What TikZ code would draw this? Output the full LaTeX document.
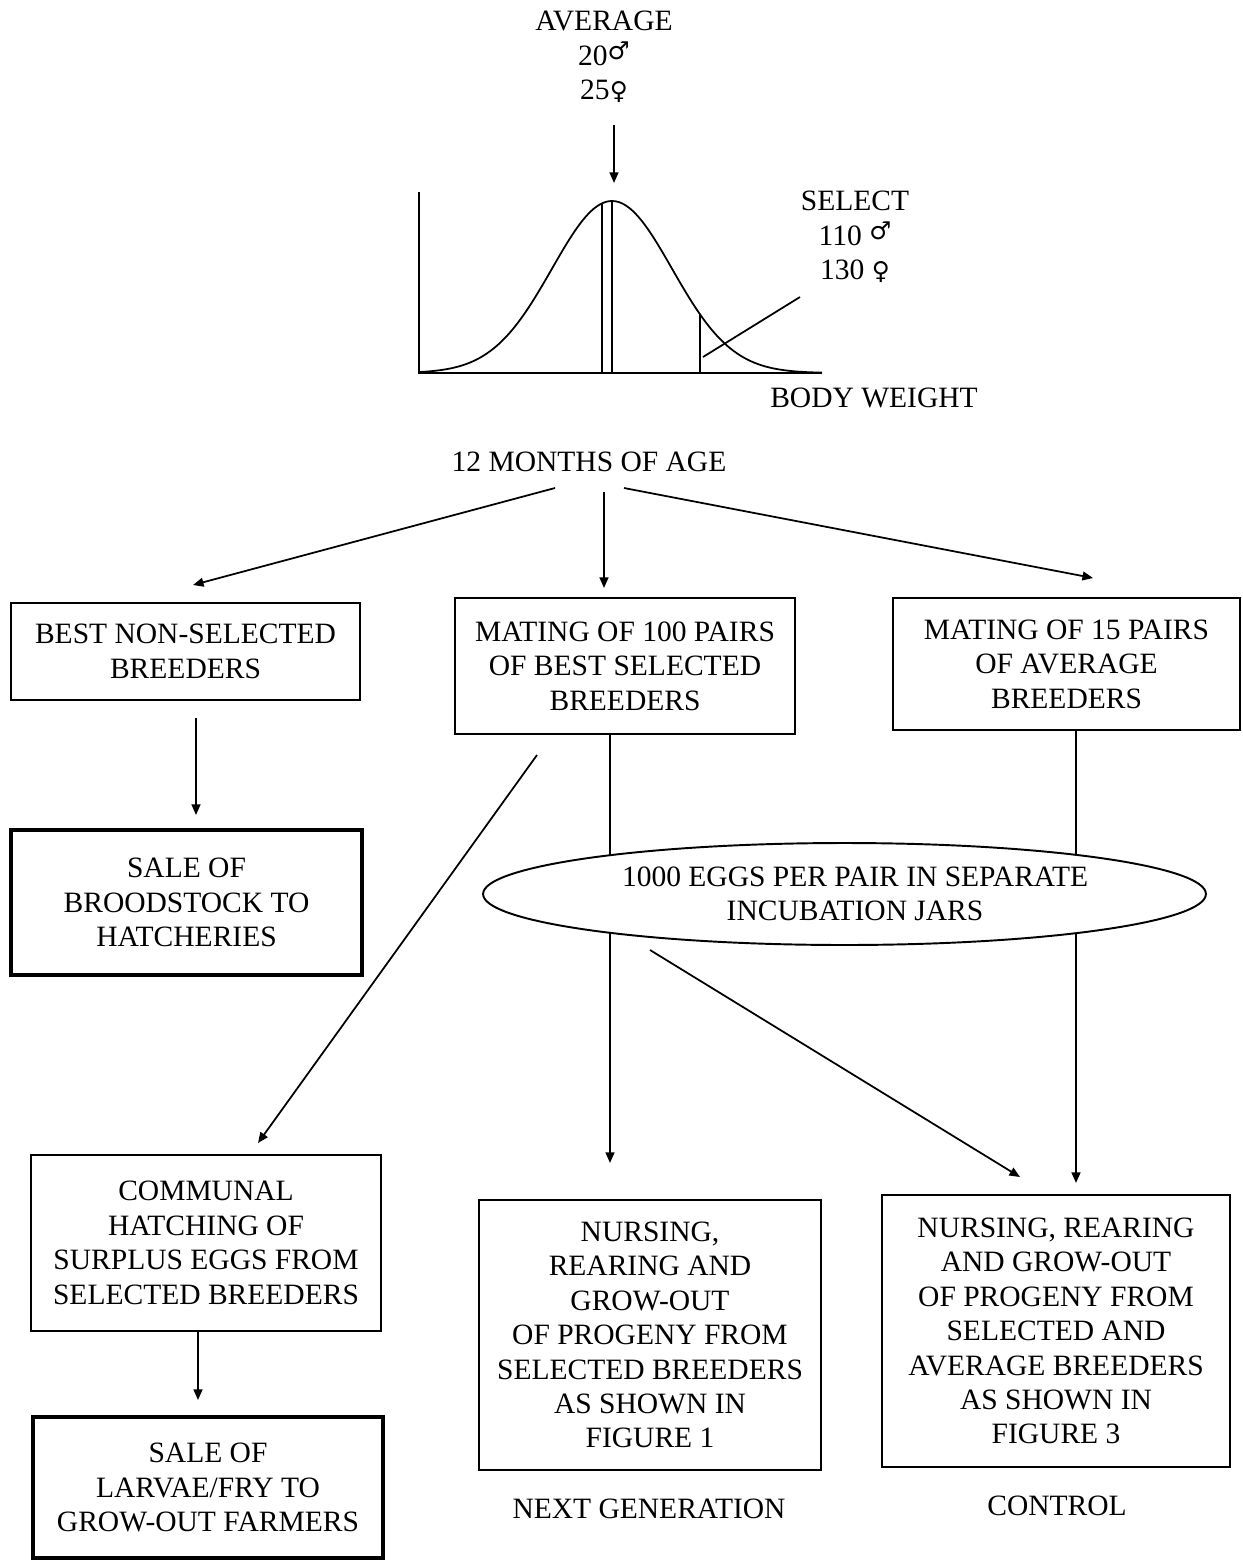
\documentclass[tikz,border=0pt]{standalone}
\usepackage{fontspec}
\setmainfont{Liberation Serif}
\newfontfamily\symf{DejaVu Sans}
\usetikzlibrary{shapes.geometric,arrows.meta}
\begin{document}
\begin{tikzpicture}[x=0.02cm,y=-0.02cm,
  every node/.style={font=\fontsize{16.8}{19.6}\selectfont, align=center, inner sep=0pt},
  box/.style={draw, line width=1.1pt, align=center},
  thickbox/.style={box, line width=1.9pt},
  conn/.style={line width=1pt},
  arr/.style={conn, -{Triangle[length=6pt,width=5pt]}}]
\useasboundingbox (0,0) rectangle (1242,1562);

% ---- distribution graph ----
\draw[conn] (419,192) -- (419,373) -- (822,373);
\draw[conn] plot[domain=419:822, samples=120, smooth] (\x, {373-172*exp(-0.5*((\x-612)/60)^2)});
\draw[conn] (602,204) -- (602,373);
\draw[conn] (612,201) -- (612,373);
\draw[conn] (700,315) -- (700,373);
\draw[conn] (703,357) -- (800,297);

% ---- labels ----
\node (avg) at (604,57) {AVERAGE\\20{\symf\fontsize{14}{14}\selectfont\raisebox{3pt}{♂}}\\25{\symf\fontsize{14}{14}\selectfont ♀}};
\node (sel) at (855,237) {SELECT\\110 {\symf\fontsize{14}{14}\selectfont\raisebox{3pt}{♂}}\\130 {\symf\fontsize{14}{14}\selectfont ♀}};
\node (bw) at (874,398) {BODY WEIGHT};
\node (months) at (589,462) {12 MONTHS OF AGE};

% ---- boxes ----
\node[box, minimum width=6.98cm, minimum height=1.94cm] (b1) at (185.5,651.5) {BEST NON-SELECTED\\BREEDERS};
\node[box, minimum width=6.8cm, minimum height=2.72cm] (b2) at (625,666) {MATING OF 100 PAIRS\\OF BEST SELECTED\\BREEDERS};
\node[box, minimum width=6.94cm, minimum height=2.64cm] (b3) at (1066.5,664) {MATING OF 15 PAIRS\\OF AVERAGE\\BREEDERS};
\node[thickbox, minimum width=7.02cm, minimum height=2.9cm] (b4) at (186.5,902.5) {SALE OF\\BROODSTOCK TO\\HATCHERIES};
\node[draw, ellipse, line width=1.1pt, minimum width=14.46cm, minimum height=2.04cm] (ell) at (844.5,894) {\hspace*{12pt}1000 EGGS PER PAIR IN SEPARATE\\\hspace*{12pt}INCUBATION JARS};
\node[box, minimum width=7cm, minimum height=3.52cm] (b5) at (206,1243) {COMMUNAL\\HATCHING OF\\SURPLUS EGGS FROM\\SELECTED BREEDERS};
\node[thickbox, minimum width=7cm, minimum height=2.82cm] (b6) at (208,1487.5) {SALE OF\\LARVAE/FRY TO\\GROW-OUT FARMERS};
\node[box, minimum width=6.84cm, minimum height=5.4cm] (b7) at (650,1335) {NURSING,\\REARING AND\\GROW-OUT\\OF PROGENY FROM\\SELECTED BREEDERS\\AS SHOWN IN\\FIGURE 1};
\node[box, minimum width=6.96cm, minimum height=5.44cm] (b8) at (1056,1331) {NURSING, REARING\\AND GROW-OUT\\OF PROGENY FROM\\SELECTED AND\\AVERAGE BREEDERS\\AS SHOWN IN\\FIGURE 3};
\node (ng) at (649,1509) {NEXT GENERATION};
\node (ctl) at (1057,1506) {CONTROL};

% ---- connector end points ----
\coordinate (avgA) at (614,125);   \coordinate (avgB) at (614,183);
\coordinate (mL) at (555,488);     \coordinate (b1top) at (193,585);
\coordinate (mC) at (604,492);     \coordinate (b2top) at (604,588);
\coordinate (mR) at (624,488);     \coordinate (b3top) at (1093,578);
\coordinate (b1bot) at (196,718);  \coordinate (b4top) at (196,815);
\coordinate (b2diag) at (537,755); \coordinate (b5top) at (258,1143);
\coordinate (b2bot) at (610,734);  \coordinate (b7top) at (610,1163);
\coordinate (b3bot) at (1076,730); \coordinate (b8top) at (1076,1183);
\coordinate (elldiag) at (650,950);\coordinate (b8diag) at (1020,1177);
\coordinate (b5bot) at (198,1331); \coordinate (b6top) at (198,1400);
% points on the ellipse border
\coordinate (ellTL) at (610,855.2);  \coordinate (ellBL) at (610,932.8);
\coordinate (ellTR) at (1076,854.8); \coordinate (ellBR) at (1076,933.2);

% ---- connectors ----
\draw[arr] (avgA) -- (avgB);
\draw[arr] (mL) -- (b1top);
\draw[arr] (mC) -- (b2top);
\draw[arr] (mR) -- (b3top);
\draw[arr] (b1bot) -- (b4top);
\draw[arr] (b2diag) -- (b5top);
\draw[conn] (b2bot) -- (ellTL);
\draw[arr] (ellBL) -- (b7top);
\draw[conn] (b3bot) -- (ellTR);
\draw[arr] (ellBR) -- (b8top);
\draw[arr] (elldiag) -- (b8diag);
\draw[arr] (b5bot) -- (b6top);
\end{tikzpicture}
\end{document}
